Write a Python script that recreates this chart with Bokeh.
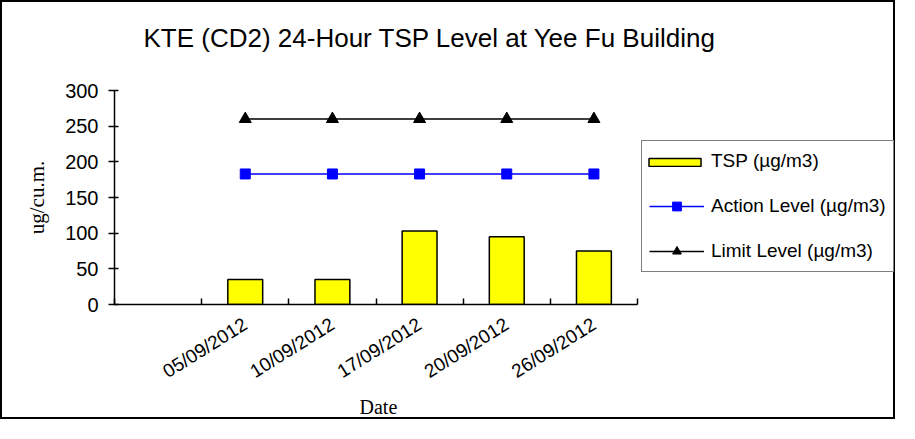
import math
from bokeh.plotting import figure
from bokeh.models import Range1d, FixedTicker, Legend, LegendItem, Title
from bokeh.embed import file_html
from bokeh.resources import INLINE

# ---- data ----
categories = ["", "05/09/2012", "10/09/2012", "17/09/2012", "20/09/2012", "26/09/2012"]
dates = categories[1:]
tsp = [35, 35, 103, 95, 75]
action_level = [183, 183, 183, 183, 183]
limit_level = [260, 260, 260, 260, 260]
y_ticks = [0, 50, 100, 150, 200, 250, 300]

xpos = [categories.index(d) + 0.5 for d in dates]
n_cat = len(categories)

W, H = 895, 419
LEFT, RIGHT = 112, 0
AXIS_PX = 523  # pixel length of the category axis
frame_w = W - LEFT - RIGHT
x_end = n_cat * frame_w / AXIS_PX  # frame reaches right edge to host the legend

p = figure(width=W, height=H, output_backend="svg", toolbar_location=None,
           x_range=Range1d(0, x_end), y_range=Range1d(0, 300),
           min_border_left=LEFT, min_border_right=RIGHT, min_border_top=88,
           min_border_bottom=117)
p.styles = {"border": "2px solid black"}
p.outline_line_color = None
p.xgrid.grid_line_color = None
p.ygrid.grid_line_color = None
p.background_fill_color = "white"
p.border_fill_color = "white"

# real title (outermost) + spacer title next to the frame
p.title.text = "KTE  (CD2) 24-Hour TSP Level at Yee Fu Building"
p.title.text_font = "Liberation Sans"
p.title.text_font_size = "26px"
p.title.text_font_style = "normal"
p.title.text_color = "black"
p.title.align = "left"
p.title.offset = 29
p.title.standoff = 0
spacer = Title(text=" ", text_font_size="10px", standoff=25)
p.add_layout(spacer, "above")

# glyphs
bars = p.vbar(x=xpos, top=tsp, width=0.4, fill_color="#FFFF00",
              line_color="black", line_width=1.5)
a_line = p.line(xpos, action_level, line_color="#0000FF", line_width=1.5)
a_pts = p.scatter(xpos, action_level, marker="square", size=10,
                  fill_color="#0000FF", line_color="#0000FF")
l_line = p.line(xpos, limit_level, line_color="black", line_width=1.5)
l_pts = p.scatter(xpos, limit_level, marker="triangle", size=12,
                  fill_color="black", line_color="black")
dummy = p.line(x=[], y=[], line_alpha=0)

# x axis
xa = p.xaxis[0]
xa.bounds = (0, n_cat)
xa.ticker = FixedTicker(ticks=xpos, minor_ticks=list(range(0, n_cat + 1)))
xa.major_label_overrides = {x: d for x, d in zip(xpos, dates)}
xa.major_tick_in = 0
xa.major_tick_out = 0
xa.minor_tick_in = 6
xa.minor_tick_out = 0
xa.minor_tick_line_color = "black"
xa.minor_tick_line_width = 1.5
xa.axis_line_color = "black"
xa.axis_line_width = 1.5
xa.major_label_orientation = math.radians(32)
xa.major_label_text_font = "Liberation Sans"
xa.major_label_text_font_size = "19px"
xa.major_label_text_color = "black"
xa.major_label_standoff = 18

# x axis title as a below-title so it centres on the category axis
date_title = Title(text="Date", text_font="Liberation Serif",
                   text_font_size="20px", text_font_style="normal",
                   text_color="black", align="left", offset=245, standoff=0)
p.add_layout(date_title, "below")

# y axis
ya = p.yaxis[0]
ya.ticker = FixedTicker(ticks=y_ticks)
ya.major_tick_in = 4
ya.major_tick_out = 6
ya.major_tick_line_color = "black"
ya.major_tick_line_width = 1.5
ya.minor_tick_line_color = None
ya.axis_line_color = "black"
ya.axis_line_width = 1.5
ya.major_label_text_font = "Liberation Sans"
ya.major_label_text_font_size = "20px"
ya.major_label_text_color = "black"
ya.major_label_standoff = 10
ya.axis_label = "ug/cu.m."
ya.axis_label_text_font = "Liberation Serif"
ya.axis_label_text_font_size = "21px"
ya.axis_label_text_font_style = "normal"
ya.axis_label_text_color = "black"
ya.axis_label_standoff = 13

# legend: boxed legend for the line items, overlay legend for the flat bar swatch
LX, LY = 527, 32
common = dict(padding=7, margin=0, spacing=19, label_height=26,
              label_standoff=7, label_text_font="Liberation Sans",
              label_text_font_size="19px")
legend_main = Legend(items=[
    LegendItem(label="TSP (µg/m3)", renderers=[dummy]),
    LegendItem(label="Action Level (µg/m3)", renderers=[a_line, a_pts]),
    LegendItem(label="Limit Level (µg/m3)", renderers=[l_line, l_pts]),
], location=(LX, LY), glyph_width=55, glyph_height=22,
   border_line_color="black", border_line_width=1.5,
   background_fill_color="white", background_fill_alpha=1.0,
   label_text_color="black", **common)
legend_bar = Legend(items=[
    LegendItem(label=" ", renderers=[bars]),
    LegendItem(label=" ", renderers=[dummy]),
    LegendItem(label=" ", renderers=[dummy]),
], location=(LX - 6, LY), glyph_width=65, glyph_height=10,
   border_line_alpha=0, background_fill_alpha=0,
   label_text_alpha=0, **common)
p.add_layout(legend_main)
p.add_layout(legend_bar)

open("out.html", "w").write(file_html(p, INLINE))
